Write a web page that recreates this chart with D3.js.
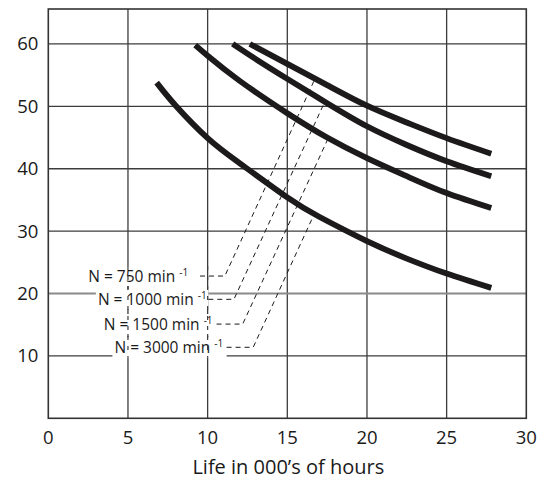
<!DOCTYPE html>
<meta charset="utf-8">
<style>
body { margin: 0; background: #fff; }
text { font-family: "Open Sans", "DejaVu Sans", sans-serif; fill: #1a1a1a; }
.grid line { stroke: #3c3c3c; stroke-width: 1.3; }
.curve { fill: none; stroke: #1c1a1a; stroke-width: 5.8; }
.leader { fill: none; stroke: #1a1a1a; stroke-width: 1; stroke-dasharray: 5,4; }
</style>
<body>
<script src="https://d3js.org/d3.v7.min.js"></script>
<script>

// speed labels (one curve per speed)
var speeds = ["750", "1000", "1500", "3000"];

// life in 000's of hours, and load
var life750  = [12.65, 15, 17.5, 20, 22.5, 25, 27.8];
var load750  = [60.0, 56.8, 53.4, 50.1, 47.4, 44.9, 42.4];
var life1000 = [11.57, 13, 15, 17.5, 20, 22.5, 25, 27.8];
var load1000 = [60.0, 57.6, 54.4, 50.5, 46.8, 43.8, 41.2, 38.8];
var life1500 = [9.22, 10, 12, 15, 17.5, 20, 22.5, 25, 27.8];
var load1500 = [59.8, 58.1, 54.1, 48.9, 45.0, 41.7, 38.8, 36.1, 33.7];
var life3000 = [6.8, 8, 10, 12, 15, 17, 20, 22.5, 25, 27.8];
var load3000 = [53.8, 50.1, 44.9, 40.9, 35.4, 32.3, 28.4, 25.6, 23.2, 20.9];

// leader annotations: label end, dash start, corner, and point on the curve
var labelY     = [22.8, 19.07, 15.1, 11.38];
var labelEndX  = [8.78, 9.94, 10.31, 10.98];
var dashStartX = [9.52, 10.04, 10.56, 11.19];
var cornerX    = [11.08, 11.65, 12.2, 12.86];
var curveX     = [16.75, 17.33, 17.57, 16.7];
var curveY     = [54.5, 50.6, 44.9, 32.8];

var xTicks = [0, 5, 10, 15, 20, 25, 30];
var yTicks = [10, 20, 30, 40, 50, 60];

var W = 544, H = 480;
var margin = {top: 9, right: 17.7, bottom: 61.7, left: 48.3};

var x = d3.scaleLinear().domain([0, 30]).range([margin.left, W - margin.right]);
var y = d3.scaleLinear().domain([0, 65.6]).range([H - margin.bottom, margin.top]);

var svg = d3.select("body").append("svg")
    .attr("width", W)
    .attr("height", H);

// grid
var grid = svg.append("g").attr("class", "grid");
grid.selectAll(".vx")
    .data(xTicks.slice(1, -1))
  .enter().append("line")
    .attr("x1", d => x(d)).attr("x2", d => x(d))
    .attr("y1", y.range()[0]).attr("y2", y.range()[1]);
grid.selectAll(".hy")
    .data(yTicks)
  .enter().append("line")
    .attr("x1", x.range()[0]).attr("x2", x.range()[1])
    .attr("y1", d => y(d)).attr("y2", d => y(d))
    .style("stroke", d => d === 20 ? "#8a8a8a" : null)
    .style("stroke-width", d => d === 20 ? 2 : null);

// frame
svg.append("rect")
    .attr("x", x(0)).attr("y", y.range()[1])
    .attr("width", x(30) - x(0)).attr("height", y(0) - y.range()[1])
    .attr("fill", "none").attr("stroke", "#333").attr("stroke-width", 1.6);

// tick labels
svg.selectAll(".xt")
    .data(xTicks)
  .enter().append("text")
    .attr("x", d => x(d)).attr("y", y(0) + 26)
    .attr("text-anchor", "middle")
    .style("font-size", "18.5px")
    .text(d => d);
svg.selectAll(".yt")
    .data(yTicks)
  .enter().append("text")
    .attr("x", x(0) - 10).attr("y", d => y(d) + 6.5)
    .attr("text-anchor", "end")
    .style("font-size", "18.5px")
    .text(d => d);

svg.append("text")
    .attr("x", (x(0) + x(30)) / 2 + 1)
    .attr("y", H - 6)
    .attr("text-anchor", "middle")
    .style("font-size", "20px")
    .text("Life in 000\u2019s of hours");

// load-life curves
var lifes = [life750, life1000, life1500, life3000];
var loads = [load750, load1000, load1500, load3000];
var line = d3.line()
    .x(d => x(d[0]))
    .y(d => y(d[1]))
    .curve(d3.curveNatural);

speeds.forEach(function(s, i) {
  var pts = lifes[i].map((v, j) => [v, loads[i][j]]);
  svg.append("path")
      .attr("class", "curve")
      .attr("d", line(pts));
});

// speed labels with white boxes and dashed leaders
var ann = svg.append("g");
speeds.forEach(function(s, i) {
  var g = ann.append("g");
  var t = g.append("text")
      .attr("x", x(labelEndX[i]))
      .attr("y", y(labelY[i]) + 5.5)
      .attr("text-anchor", "end")
      .style("font-size", "15.5px");
  t.append("tspan").text("N = " + s + " min ");
  t.append("tspan")
      .attr("dy", -6)
      .style("font-size", "10px")
      .text("-1");
  var bb = t.node().getBBox();
  g.insert("rect", "text")
      .attr("x", bb.x - 2)
      .attr("y", y(labelY[i]) - 10)
      .attr("width", x(dashStartX[i]) - bb.x + 2)
      .attr("height", 20)
      .attr("fill", "#fff");
  g.append("path")
      .attr("class", "leader")
      .attr("d", d3.line()([
        [x(dashStartX[i]), y(labelY[i])],
        [x(cornerX[i]), y(labelY[i])],
        [x(curveX[i]), y(curveY[i])]
      ]));
});

// grid lines showing through the label boxes as faint dashes
ann.selectAll(".thru")
    .data([5, 10])
  .enter().insert("line", "g")
    .attr("x1", d => x(d)).attr("x2", d => x(d))
    .attr("y1", y(labelY[0]) - 10).attr("y2", y(labelY[3]) + 10)
    .attr("stroke", "#3c3c3c").attr("stroke-width", 1.2)
    .attr("stroke-dasharray", "4,6");
ann.selectAll("line").raise();

</script>
</body>
